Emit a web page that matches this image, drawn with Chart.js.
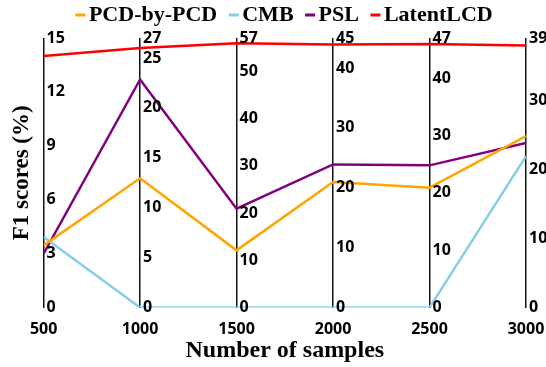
<!DOCTYPE html>
<html lang="en">
<head>
<meta charset="UTF-8">
<script src="https://cdn.jsdelivr.net/npm/chart.js"></script>
<title>F1 scores vs number of samples</title>
<style>
    body { margin: 0; background: #fff; }
</style>
</head>
<body>
<canvas id="f1Chart" width="546" height="367"></canvas>
<script>
    // x positions (one vertical axis per sample count)
    const samples = [500, 1000, 1500, 2000, 2500, 3000];

    // every vertical axis has its own range 0..max
    const axisMax = [15, 27, 57, 45, 47, 39];
    const axisTicks = [
        [0, 3, 6, 9, 12, 15],
        [0, 5, 10, 15, 20, 25, 27],
        [0, 10, 20, 30, 40, 50, 57],
        [0, 10, 20, 30, 40, 45],
        [0, 10, 20, 30, 40, 47],
        [0, 10, 20, 30, 39]
    ];

    // F1 scores (%)
    const pcdByPcd  = [3.46, 12.95, 12.1, 20.96, 20.9, 24.8];
    const cmb       = [3.93, 0, 0, 0, 0, 21.9];
    const psl       = [3.0, 22.85, 20.9, 23.9, 24.8, 23.8];
    const latentLCD = [14.0, 26.0, 55.9, 43.9, 45.95, 37.9];

    const seriesNames  = ['PCD-by-PCD', 'CMB', 'PSL', 'LatentLCD'];
    const seriesValues = [pcdByPcd, cmb, psl, latentLCD];
    const seriesColors = ['#FFA500', '#87CEEB', '#800080', '#FF0000'];

    // values are put on a shared 0..1 scale, relative to the axis they sit on
    function toPoints(values) {
        return values.map((v, i) => ({ x: samples[i], y: v / axisMax[i] }));
    }

    // small dash used as legend marker
    function dash(color) {
        const c = document.createElement('canvas');
        c.width = 20;
        c.height = 4;
        const g = c.getContext('2d');
        g.fillStyle = color;
        g.fillRect(8, 0.5, 10, 3);
        return c;
    }
    const markers = seriesColors.map(dash);

    const axisLabels = {
        id: 'axisLabels',
        afterDraw(chart) {
            const { ctx, scales: { x, y } } = chart;
            ctx.save();
            ctx.font = 'bold 16px "Open Sans"';
            ctx.fillStyle = '#000';
            ctx.textAlign = 'left';
            ctx.textBaseline = 'middle';
            samples.forEach((s, i) => {
                const px = x.getPixelForValue(s) + 3;
                axisTicks[i].forEach(t => {
                    ctx.fillText(String(t), px, y.getPixelForValue(t / axisMax[i]));
                });
            });
            ctx.restore();
        }
    };

    const legendGap = {
        id: 'legendGap',
        afterInit(chart) {
            const fit = chart.legend.fit;
            chart.legend.fit = function () {
                fit.call(this);
                this.height += 2;
            };
        }
    };

    const serif = '"Liberation Serif", "Times New Roman", serif';

    const data = {
        datasets: seriesNames.map((name, i) => ({
            label: name,
            data: toPoints(seriesValues[i]),
            borderColor: seriesColors[i],
            backgroundColor: seriesColors[i],
            borderWidth: 2.5,
            pointRadius: 0,
            tension: 0
        }))
    };

    const config = {
        type: 'line',
        data: data,
        plugins: [axisLabels, legendGap],
        options: {
            responsive: false,
            animation: false,
            layout: { padding: { top: -9, left: 4, right: 20, bottom: 0 } },
            plugins: {
                tooltip: { enabled: false },
                legend: {
                    position: 'top',
                    fullSize: false,
                    labels: {
                        usePointStyle: true,
                        pointStyleWidth: 1,
                        boxWidth: 1,
                        padding: 13,
                        color: '#000',
                        font: { family: serif, size: 22, weight: 'bold' },
                        generateLabels: chart => Chart.defaults.plugins.legend.labels.generateLabels(chart)
                            .map((item, i) => ({ ...item, pointStyle: markers[i], lineWidth: 0 }))
                    }
                }
            },
            scales: {
                x: {
                    type: 'linear',
                    min: 500,
                    max: 3000,
                    afterFit(scale) {
                        scale.paddingLeft = 0;
                        scale.paddingRight = 0;
                    },
                    ticks: {
                        stepSize: 500,
                        padding: 14,
                        color: '#000',
                        callback: v => String(v),
                        font: { family: '"Open Sans"', size: 16, weight: 'bold', lineHeight: 1 }
                    },
                    grid: { color: '#111', lineWidth: 1.5, drawTicks: false },
                    border: { display: false },
                    title: {
                        display: true,
                        text: 'Number of samples',
                        color: '#000',
                        padding: { top: -14, bottom: 3 },
                        font: { family: serif, size: 24, weight: 'bold', lineHeight: 1.1 }
                    }
                },
                y: {
                    min: 0,
                    max: 1,
                    ticks: { display: false },
                    grid: { display: false, drawTicks: false },
                    border: { display: false },
                    title: {
                        display: true,
                        text: 'F1 scores (%)',
                        color: '#000',
                        padding: { top: 4, bottom: 8 },
                        font: { family: serif, size: 23, weight: 'bold' }
                    }
                }
            }
        }
    };

    const f1Chart = new Chart(document.getElementById('f1Chart'), config);
</script>
</body>
</html>
